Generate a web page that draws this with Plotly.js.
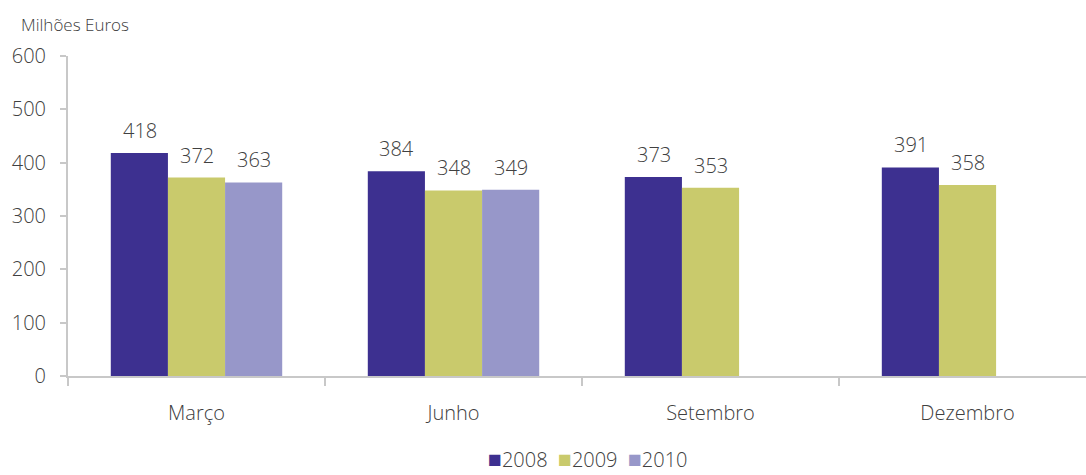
<!DOCTYPE html>
<html>
<head>
<meta charset="utf-8">
<script src="https://cdn.plot.ly/plotly-3.0.1.min.js"></script>
<style>html,body{margin:0;padding:0;background:#fff;}#chart{width:1086px;height:475px;}</style>
</head>
<body>
<div id="chart"></div>
<script>
const categories = ["Março", "Junho", "Setembro", "Dezembro"];
const years = ["2008", "2009", "2010"];
const values2008 = [418, 384, 373, 391];
const values2009 = [372, 348, 353, 358];
const values2010 = [363, 349, null, null];
const colors = ["#3d3090", "#c9ca6c", "#9797c9"];
const yTicks = [0, 100, 200, 300, 400, 500, 600];
const yTitle = "Milhões Euros";

const series = [values2008, values2009, values2010];
const font = "Open Sans, sans-serif";
const textColor = "#404040";

const traces = series.map((vals, i) => ({
  type: "bar",
  name: years[i],
  x: categories,
  y: vals,
  marker: {color: colors[i]},
  hoverinfo: "none",
  showlegend: false
}));

const barPx = 57;
const annotations = [];
series.forEach((vals, i) => {
  vals.forEach((v, j) => {
    if (v === null) return;
    annotations.push({
      x: categories[j], y: v, xref: "x", yref: "y",
      text: String(v), showarrow: false,
      xshift: (i - 1) * barPx, yanchor: "bottom", yshift: 7,
      font: {family: font, size: 20, color: textColor, weight: 300}
    });
  });
});
annotations.push({
  xref: "paper", yref: "paper", x: (19 - 68) / 1018, y: 1, yanchor: "bottom", xanchor: "left",
  yshift: 18, text: yTitle, showarrow: false,
  font: {family: font, size: 17, color: textColor, weight: 300}
});
// legend drawn as a text line built from the years and colours
const legendText = years.map((y, i) =>
  '<span style="color:' + colors[i] + ';font-size:23px">■</span>' + y).join('  ');
annotations.push({
  xref: "paper", yref: "paper", x: (588 - 68) / 1018, y: 0, xanchor: "center", yanchor: "bottom",
  yshift: -(475 - 376), borderpad: 0, text: legendText, showarrow: false,
  font: {family: font, size: 20, color: textColor, weight: 300}
});

const layout = {
  width: 1086, height: 475,
  margin: {l: 68, r: 0, t: 56, b: 99, autoexpand: false},
  paper_bgcolor: "#fff", plot_bgcolor: "#fff",
  barmode: "group", bargap: 0.333, bargroupgap: 0,
  showlegend: false,
  xaxis: {
    range: [-0.5, 3.461], showline: true, linecolor: "#c8c8c8", linewidth: 2,
    ticks: "outside", tickson: "boundaries", ticklen: 8, tickcolor: "#c8c8c8", tickwidth: 2,
    tickfont: {family: font, size: 20, color: textColor, weight: 300}, showgrid: false, fixedrange: true,
    ticklabelstandoff: 18
  },
  yaxis: {
    range: [0, 600], tickvals: yTicks, showline: true, linecolor: "#c8c8c8", linewidth: 2,
    ticks: "outside", ticklen: 6, tickcolor: "#c8c8c8", tickwidth: 2,
    tickfont: {family: font, size: 20, color: textColor, weight: 300}, showgrid: false, zeroline: false,
    ticklabelstandoff: 10, fixedrange: true
  },
  annotations: annotations
};

Plotly.newPlot("chart", traces, layout, {displayModeBar: false, staticPlot: true});
</script>
</body>
</html>
